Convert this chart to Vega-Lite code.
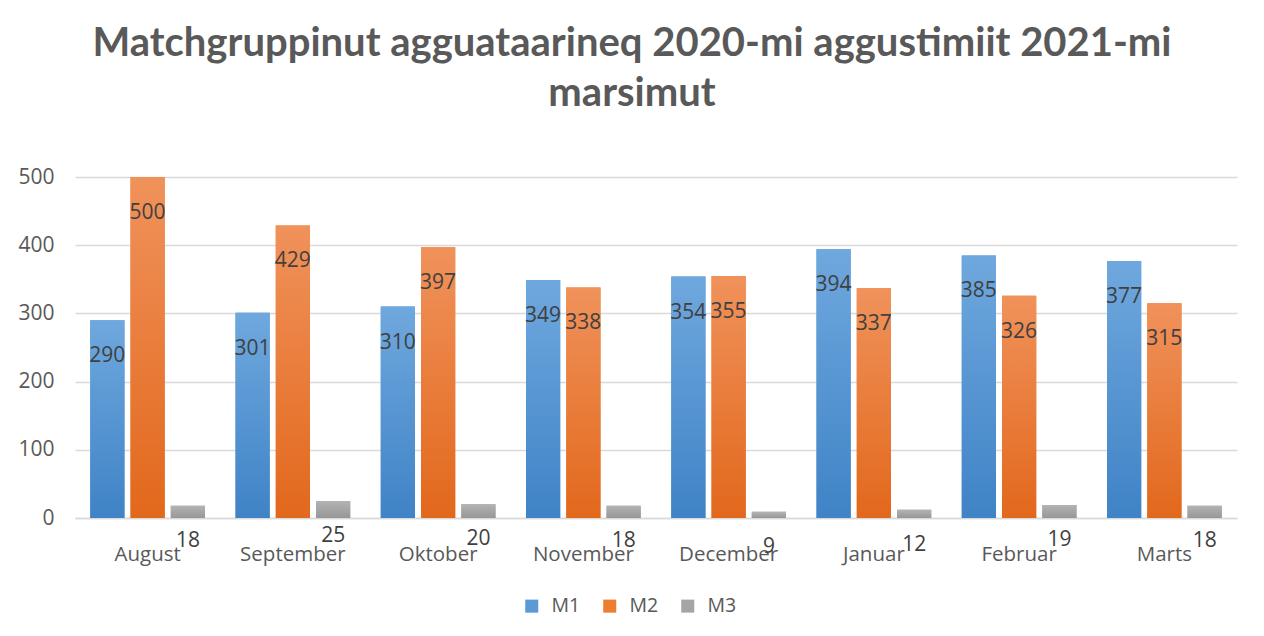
{
  "$schema": "https://vega.github.io/schema/vega-lite/v6.json",
  "width": 1162,
  "height": 341,
  "autosize": {"type": "none"},
  "padding": {"left": 75, "top": 177, "right": 27, "bottom": 118},
  "background": "white",
  "title": {
    "text": ["Matchgruppinut agguataarineq 2020-mi aggustimiit 2021-mi", "marsimut"],
    "font": "Lato",
    "fontSize": 40,
    "fontWeight": "bold",
    "color": "#595959",
    "anchor": "middle",
    "dx": -24,
    "offset": 52,
    "lineHeight": 50
  },
  "data": {
    "values": [
      {"month": "August", "series": "M1", "value": 290},
      {"month": "August", "series": "M2", "value": 500},
      {"month": "August", "series": "M3", "value": 18},
      {"month": "September", "series": "M1", "value": 301},
      {"month": "September", "series": "M2", "value": 429},
      {"month": "September", "series": "M3", "value": 25},
      {"month": "Oktober", "series": "M1", "value": 310},
      {"month": "Oktober", "series": "M2", "value": 397},
      {"month": "Oktober", "series": "M3", "value": 20},
      {"month": "November", "series": "M1", "value": 349},
      {"month": "November", "series": "M2", "value": 338},
      {"month": "November", "series": "M3", "value": 18},
      {"month": "December", "series": "M1", "value": 354},
      {"month": "December", "series": "M2", "value": 355},
      {"month": "December", "series": "M3", "value": 9},
      {"month": "Januar", "series": "M1", "value": 394},
      {"month": "Januar", "series": "M2", "value": 337},
      {"month": "Januar", "series": "M3", "value": 12},
      {"month": "Februar", "series": "M1", "value": 385},
      {"month": "Februar", "series": "M2", "value": 326},
      {"month": "Februar", "series": "M3", "value": 19},
      {"month": "Marts", "series": "M1", "value": 377},
      {"month": "Marts", "series": "M2", "value": 315},
      {"month": "Marts", "series": "M3", "value": 18}
    ]
  },
  "encoding": {
    "x": {
      "field": "month",
      "type": "nominal",
      "sort": null,
      "title": null,
      "scale": {"paddingInner": 0.21, "paddingOuter": 0.105},
      "axis": {
        "labelAngle": 0,
        "ticks": false,
        "labelPadding": 26,
        "labelFont": "Open Sans",
        "labelFontSize": 20.5,
        "labelColor": "#595959",
        "domainColor": "#d9d9d9",
        "domainWidth": 1.5
      }
    },
    "xOffset": {
      "field": "series",
      "type": "nominal",
      "scale": {"domain": ["M1", "M2", "M3"], "paddingInner": 0.15, "paddingOuter": 0}
    },
    "y": {
      "field": "value",
      "type": "quantitative",
      "title": null,
      "scale": {"domain": [0, 500], "nice": false},
      "axis": {
        "values": [0, 100, 200, 300, 400, 500],
        "domain": false,
        "ticks": false,
        "labelPadding": 21,
        "labelFont": "Open Sans",
        "labelFontSize": 21,
        "labelColor": "#595959",
        "gridColor": "#d9d9d9",
        "gridWidth": 1.5
      }
    }
  },
  "layer": [
    {
      "mark": {"type": "bar"},
      "encoding": {
        "color": {
          "field": "series",
          "type": "nominal",
          "scale": {"domain": ["M1", "M2", "M3"], "range": ["#5b9bd5", "#ed7d31", "#a5a5a5"]},
          "legend": {
            "title": null,
            "orient": "none",
            "direction": "horizontal",
            "legendX": 447,
            "legendY": 419,
            "symbolType": "square",
            "symbolSize": 170,
            "symbolStrokeWidth": 0,
            "labelFont": "Open Sans",
            "labelFontSize": 19.5,
            "labelColor": "#595959",
            "labelOffset": 10,
            "columnPadding": 19
          }
        }
      }
    },
    {
      "transform": [{"filter": "datum.series === 'M1'"}],
      "mark": {
        "type": "bar",
        "color": {"gradient": "linear", "x1": 0, "y1": 0, "x2": 0, "y2": 1,
          "stops": [{"offset": 0, "color": "#6fa8de"}, {"offset": 1, "color": "#3f83c6"}]}
      }
    },
    {
      "transform": [{"filter": "datum.series === 'M2'"}],
      "mark": {
        "type": "bar",
        "color": {"gradient": "linear", "x1": 0, "y1": 0, "x2": 0, "y2": 1,
          "stops": [{"offset": 0, "color": "#f0925b"}, {"offset": 1, "color": "#e2681c"}]}
      }
    },
    {
      "transform": [{"filter": "datum.series === 'M3'"}],
      "mark": {
        "type": "bar",
        "color": {"gradient": "linear", "x1": 0, "y1": 0, "x2": 0, "y2": 1,
          "stops": [{"offset": 0, "color": "#b3b3b3"}, {"offset": 1, "color": "#979797"}]}
      }
    },
    {
      "transform": [{"filter": "datum.series !== 'M3'"}],
      "mark": {"type": "text", "dy": 36, "baseline": "middle", "font": "Open Sans", "fontSize": 21, "color": "#404040"},
      "encoding": {"text": {"field": "value", "type": "quantitative"}}
    },
    {
      "transform": [{"filter": "datum.series === 'M3'"}],
      "mark": {"type": "text", "dy": 35, "baseline": "middle", "font": "Open Sans", "fontSize": 21, "color": "#404040"},
      "encoding": {"text": {"field": "value", "type": "quantitative"}}
    }
  ],
  "config": {"view": {"stroke": null}}
}
